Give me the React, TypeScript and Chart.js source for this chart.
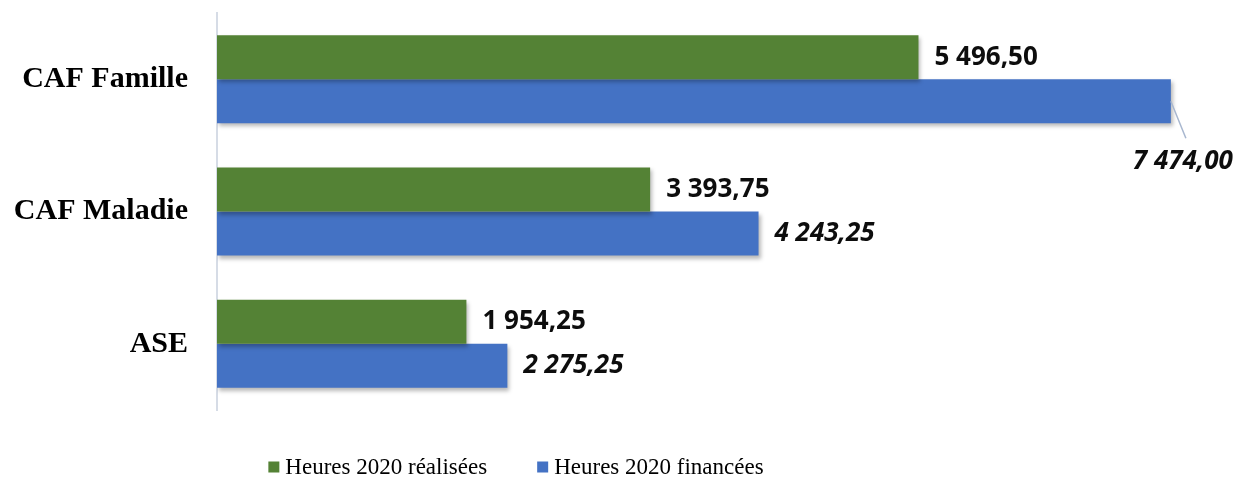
import React, { useEffect, useRef } from "react";
import { Chart, registerables } from "chart.js";

Chart.register(...registerables);

const categories = ["CAF Famille", "CAF Maladie", "ASE"];
const realisees = [5496.5, 3393.75, 1954.25];
const financees = [7474.0, 4243.25, 2275.25];
const seriesNames = ["Heures 2020 réalisées", "Heures 2020 financées"];
const seriesColors = ["#548235", "#4472C4"];
const xMax = 8000;

function fmt(v: number): string {
  const [i, d] = v.toFixed(2).split(".");
  return i.replace(/\B(?=(\d{3})+(?!\d))/g, " ") + "," + d;
}

const shadowPlugin = {
  id: "barShadow",
  beforeDatasetDraw(chart: any) {
    const ctx = chart.ctx;
    ctx.save();
    ctx.shadowColor = "rgba(0,0,0,0.28)";
    ctx.shadowBlur = 4;
    ctx.shadowOffsetX = 2;
    ctx.shadowOffsetY = 3;
  },
  afterDatasetDraw(chart: any) {
    chart.ctx.restore();
  },
};

const labelPlugin = {
  id: "valueLabels",
  afterDatasetsDraw(chart: any) {
    const ctx = chart.ctx;
    chart.data.datasets.forEach((ds: any, di: number) => {
      const meta = chart.getDatasetMeta(di);
      ctx.save();
      ctx.font = `${ds.labelItalic ? "italic " : ""}bold 26px "Open Sans"`;
      ctx.fillStyle = "#0d0d0d";
      ctx.textBaseline = "middle";
      ctx.textAlign = "left";
      meta.data.forEach((bar: any, i: number) => {
        const text = fmt(ds.data[i]);
        const w = ctx.measureText(text).width;
        let x = bar.x + 16;
        let y = bar.y;
        if (x + w > chart.width - 4) {
          ctx.save();
          ctx.strokeStyle = "#a8b7cf";
          ctx.lineWidth = 1.5;
          ctx.beginPath();
          ctx.moveTo(bar.x, bar.y);
          ctx.lineTo(bar.x + 15, bar.y + 37);
          ctx.stroke();
          ctx.restore();
          x = bar.x + 12 - w / 2;
          y = bar.y + 60;
        }
        ctx.fillText(text, x, y);
      });
      ctx.restore();
    });
  },
};

const legendPlugin = {
  id: "customLegend",
  afterDraw(chart: any) {
    const ctx = chart.ctx;
    ctx.save();
    ctx.font = '23px "Liberation Serif"';
    ctx.textBaseline = "middle";
    ctx.textAlign = "left";
    const box = 11;
    const gapBoxText = 6;
    const gapItems = 50;
    const items = chart.data.datasets.map((ds: any) => ({
      label: ds.label,
      color: ds.backgroundColor,
      w: ctx.measureText(ds.label).width,
    }));
    const total =
      items.reduce((s: number, it: any) => s + box + gapBoxText + it.w, 0) +
      gapItems * (items.length - 1);
    let x = 516 - total / 2;
    const y = 467;
    items.forEach((it: any) => {
      ctx.fillStyle = it.color;
      ctx.fillRect(x, y - box / 2, box, box);
      x += box + gapBoxText;
      ctx.fillStyle = "#000";
      ctx.fillText(it.label, x, y + 1);
      x += it.w + gapItems;
    });
    ctx.restore();
  },
};

export default function App() {
  const ref = useRef<HTMLCanvasElement | null>(null);
  useEffect(() => {
    if (!ref.current) return;
    const chart = new Chart(ref.current, {
      type: "bar",
      data: {
        labels: categories,
        datasets: [
          {
            label: seriesNames[0],
            data: realisees,
            backgroundColor: seriesColors[0],
            categoryPercentage: 0.665,
            barPercentage: 1,
            labelItalic: false,
          } as any,
          {
            label: seriesNames[1],
            data: financees,
            backgroundColor: seriesColors[1],
            categoryPercentage: 0.665,
            barPercentage: 1,
            labelItalic: true,
          } as any,
        ],
      },
      options: {
        indexAxis: "y",
        responsive: false,
        animation: false,
        layout: { padding: { top: 13, bottom: 69, right: 1, left: 0 } },
        plugins: {
          legend: { display: false },
          tooltip: { enabled: false },
        },
        scales: {
          x: { display: false, min: 0, max: xMax },
          y: {
            grid: { display: true, drawOnChartArea: false, drawTicks: false },
            border: { display: true, color: "#d6dce6", width: 2 },
            ticks: {
              color: "#000",
              padding: 29,
              font: { family: "Liberation Serif", size: 30, weight: "bold" },
            },
            afterFit(scale: any) {
              scale.width = 217;
              scale.paddingTop = 0;
              scale.paddingBottom = 0;
            },
          },
        },
      },
      plugins: [shadowPlugin, labelPlugin, legendPlugin],
    });
    return () => chart.destroy();
  }, []);
  return (
    <div style={{ position: "absolute", left: 0, top: 0, width: 1239, height: 479, background: "#fff" }}>
      <canvas ref={ref} width={1239} height={479} style={{ display: "block" }} />
    </div>
  );
}
